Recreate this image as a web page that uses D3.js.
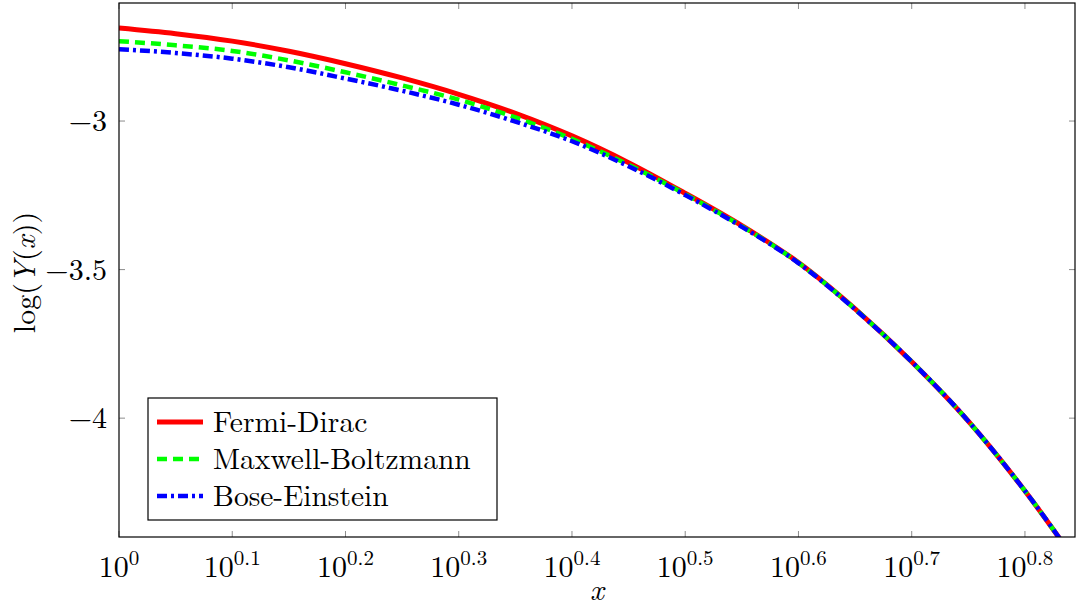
<!DOCTYPE html>
<html>
<head>
<meta charset="utf-8">
<script src="https://cdn.jsdelivr.net/npm/d3@7"></script>
<style>
  body { margin: 0; background: #fff; }
  svg text { font-family: "Latin Modern Roman", "CMU Serif", "Liberation Serif", "Times New Roman", Tinos, "DejaVu Serif", "Noto Serif", FreeSerif, serif; fill: #000; }
</style>
</head>
<body>
<div class="chart"></div>
<script>
var margin = { top: 3, right: 1, bottom: 71, left: 119 };
var width = 1076 - margin.left - margin.right;
var height = 608 - margin.top - margin.bottom;

// x sample points (10^0 .. 10^0.85)
var xs = [1, 1.122, 1.259, 1.413, 1.585, 1.778, 1.995, 2.239, 2.512, 2.818,
  3.162, 3.548, 3.981, 4.467, 5.012, 5.623, 6.31, 7.079];
var fermiDirac = [-2.687, -2.706, -2.731, -2.765, -2.807, -2.855, -2.910, -2.974, -3.050,
  -3.140, -3.243, -3.352, -3.476, -3.632, -3.81, -4.01, -4.245, -4.51];
var maxwellBoltzmann = [-2.731, -2.745, -2.764, -2.796, -2.836, -2.880, -2.928, -2.988, -3.060,
  -3.147, -3.246, -3.354, -3.477, -3.633, -3.81, -4.01, -4.245, -4.51];
var boseEinstein = [-2.758, -2.771, -2.790, -2.819, -2.857, -2.898, -2.945, -3.002, -3.068,
  -3.152, -3.249, -3.356, -3.478, -3.634, -3.81, -4.01, -4.245, -4.51];

var seriesNames = ["Fermi-Dirac", "Maxwell-Boltzmann", "Bose-Einstein"];
var xTickExps = ["0", "0.1", "0.2", "0.3", "0.4", "0.5", "0.6", "0.7", "0.8"];
var yTicks = [-3, -3.5, -4];

var styles = [
  { color: "#ff0000", width: 5, dash: null },
  { color: "#00ff00", width: 4.5, dash: "10,6" },
  { color: "#0000ff", width: 4.5, dash: "10,4,3,4" }
];

var svg = d3.select(".chart").append("svg")
  .attr("width", 1076)
  .attr("height", 608);

var g = svg.append("g")
  .attr("transform", `translate(${margin.left}, ${margin.top})`);

var xScale = d3.scaleLog().domain([1, Math.pow(10, 0.8442)]).range([0, width]);
var yScale = d3.scaleLinear().domain([-4.4, -2.6027]).range([height, 0]);

var xTickVals = xTickExps.map(e => Math.pow(10, +e));

// tick marks (inside, top/bottom and left/right)
var tickColor = "#8c8c8c";
xTickVals.forEach(function (v) {
  var x = xScale(v);
  g.append("line").attr("x1", x).attr("x2", x).attr("y1", height).attr("y2", height - 6)
    .attr("stroke", tickColor).attr("stroke-width", 1);
  g.append("line").attr("x1", x).attr("x2", x).attr("y1", 0).attr("y2", 6)
    .attr("stroke", tickColor).attr("stroke-width", 1);
});
yTicks.forEach(function (v) {
  var y = yScale(v);
  g.append("line").attr("x1", 0).attr("x2", 6).attr("y1", y).attr("y2", y)
    .attr("stroke", tickColor).attr("stroke-width", 1);
  g.append("line").attr("x1", width).attr("x2", width - 6).attr("y1", y).attr("y2", y)
    .attr("stroke", tickColor).attr("stroke-width", 1);
});

// curves
g.append("clipPath").attr("id", "clip")
  .append("rect").attr("width", width).attr("height", height);

var line = d3.line()
  .x((d, i) => xScale(xs[i]))
  .y(d => yScale(d))
  .curve(d3.curveMonotoneX);

var allSeries = [fermiDirac, maxwellBoltzmann, boseEinstein];
allSeries.forEach(function (s, i) {
  g.append("path")
    .attr("d", line(s))
    .attr("clip-path", "url(#clip)")
    .attr("fill", "none")
    .attr("stroke", styles[i].color)
    .attr("stroke-width", styles[i].width)
    .attr("stroke-dasharray", styles[i].dash);
});

// frame
g.append("rect").attr("width", width).attr("height", height)
  .attr("fill", "none").attr("stroke", "#000").attr("stroke-width", 1.2);

// x tick labels
xTickVals.forEach(function (v, i) {
  var t = g.append("text")
    .attr("x", xScale(v))
    .attr("y", height + 40)
    .attr("text-anchor", "middle")
    .style("font-size", "30px");
  t.append("tspan").text("10");
  t.append("tspan").attr("dy", -12).style("font-size", "21px").text(xTickExps[i]);
});

// y tick labels
yTicks.forEach(function (v) {
  g.append("text")
    .attr("x", -12)
    .attr("y", yScale(v) + 10)
    .attr("text-anchor", "end")
    .style("font-size", "30px")
    .text("\u2212" + v.toString().replace("-", ""));
});

// axis titles
g.append("text")
  .attr("x", xScale(Math.pow(10, 0.422)))
  .attr("y", height + 63)
  .attr("text-anchor", "middle")
  .style("font-size", "30px")
  .style("font-style", "italic")
  .text("x");

var yl = g.append("text")
  .attr("transform", `translate(${-84}, ${yScale(-3.51)}) rotate(-90)`)
  .attr("text-anchor", "middle")
  .style("font-size", "30px");
yl.append("tspan").text("log(");
yl.append("tspan").style("font-style", "italic").text("Y");
yl.append("tspan").text("(");
yl.append("tspan").style("font-style", "italic").text("x");
yl.append("tspan").text("))");

// legend
var legend = g.append("g").attr("transform", `translate(${148 - margin.left}, ${398 - margin.top})`);
legend.append("rect").attr("width", 349).attr("height", 122)
  .attr("fill", "#fff").attr("stroke", "#000").attr("stroke-width", 1.2);
seriesNames.forEach(function (name, i) {
  var y = 24 + i * 37;
  legend.append("line")
    .attr("x1", 9).attr("x2", 55).attr("y1", y).attr("y2", y)
    .attr("stroke", styles[i].color)
    .attr("stroke-width", styles[i].width)
    .attr("stroke-dasharray", styles[i].dash);
  legend.append("text")
    .attr("x", 65)
    .attr("y", y + 10)
    .style("font-size", "29.5px")
    .text(name);
});
</script>
</body>
</html>
